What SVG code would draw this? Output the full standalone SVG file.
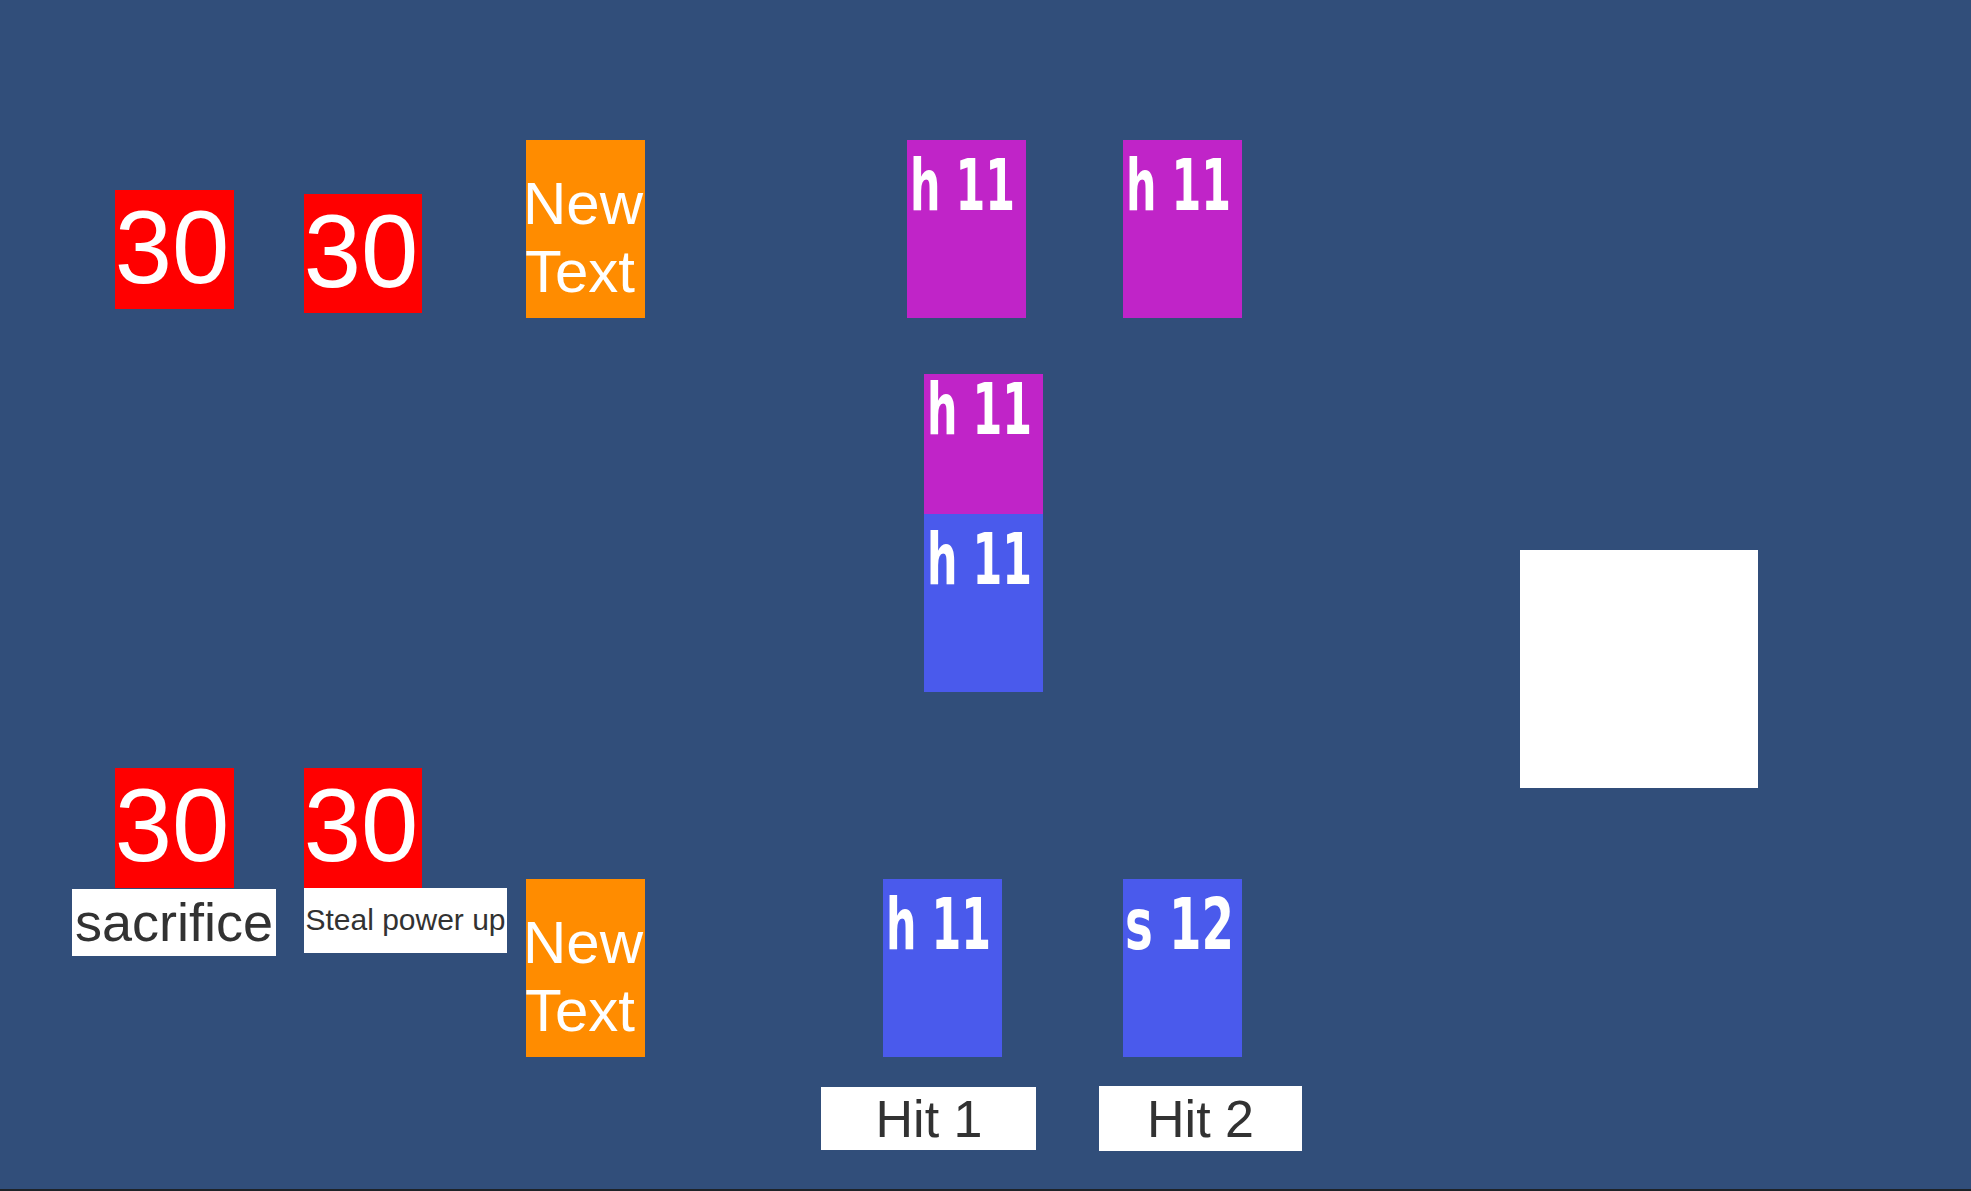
<svg xmlns="http://www.w3.org/2000/svg" width="1971" height="1191" viewBox="0 0 1971 1191">
  <style>
    .red { fill: #FF0000; }
    .orange { fill: #FF8C00; }
    .purple { fill: #C024C8; }
    .blue { fill: #4A5AEC; }
    .white { fill: #FFFFFF; }
    .num { font-family: "Liberation Sans", Arial, sans-serif; font-size: 103px; fill: #FFFFFF; text-anchor: middle; }
    .nt { font-family: "Liberation Sans", Arial, sans-serif; font-size: 60px; fill: #FFFFFF; }
    .lbl { font-family: "Liberation Sans", Arial, sans-serif; fill: #323232; text-anchor: middle; }
    .card { font-family: "DejaVu Sans", sans-serif; font-weight: bold; font-size: 72px; fill: #FFFFFF; }
  </style>
  <rect x="0" y="0" width="1971" height="1191" fill="#314E7A"/>
  <rect x="0" y="1189" width="1971" height="2" fill="#1E2328"/>

  <g id="connectors"/>

  <g id="red-top-1">
    <rect class="red" x="115" y="190" width="119" height="119"/>
    <text class="num" x="172" y="283">30</text>
  </g>
  <g id="red-top-2">
    <rect class="red" x="304" y="194" width="118" height="119"/>
    <text class="num" x="361" y="287">30</text>
  </g>
  <g id="orange-top">
    <rect class="orange" x="526" y="140" width="119" height="178"/>
    <text class="nt" x="523" y="224">New</text>
    <text class="nt" x="525" y="292">Text</text>
  </g>

  <g id="purple-top-1">
    <rect class="purple" x="907" y="140" width="119" height="178"/>
    <text class="card" x="910" y="210" textLength="105" lengthAdjust="spacingAndGlyphs">h 11</text>
  </g>
  <g id="purple-top-2">
    <rect class="purple" x="1123" y="140" width="119" height="178"/>
    <text class="card" x="1126" y="210" textLength="105" lengthAdjust="spacingAndGlyphs">h 11</text>
  </g>

  <g id="purple-mid">
    <rect class="purple" x="924" y="374" width="119" height="178"/>
    <text class="card" x="927" y="434" textLength="105" lengthAdjust="spacingAndGlyphs">h 11</text>
  </g>
  <g id="blue-mid">
    <rect class="blue" x="924" y="514" width="119" height="178"/>
    <text class="card" x="927" y="584" textLength="105" lengthAdjust="spacingAndGlyphs">h 11</text>
  </g>

  <g id="white-square">
    <rect class="white" x="1520" y="550" width="238" height="238"/>
  </g>

  <g id="red-bottom-1">
    <rect class="red" x="115" y="768" width="119" height="120"/>
    <text class="num" x="172" y="861">30</text>
  </g>
  <g id="red-bottom-2">
    <rect class="red" x="304" y="768" width="118" height="120"/>
    <text class="num" x="361" y="861">30</text>
  </g>
  <g id="sacrifice">
    <rect class="white" x="72" y="889" width="204" height="67"/>
    <text class="lbl" x="174" y="941" font-size="54">sacrifice</text>
  </g>
  <g id="steal-power-up">
    <rect class="white" x="304" y="888" width="203" height="65"/>
    <text class="lbl" x="405.5" y="930" font-size="30">Steal power up</text>
  </g>
  <g id="orange-bottom">
    <rect class="orange" x="526" y="879" width="119" height="178"/>
    <text class="nt" x="523" y="963">New</text>
    <text class="nt" x="525" y="1031">Text</text>
  </g>

  <g id="blue-bottom-1">
    <rect class="blue" x="883" y="879" width="119" height="178"/>
    <text class="card" x="886" y="949" textLength="105" lengthAdjust="spacingAndGlyphs">h 11</text>
  </g>
  <g id="blue-bottom-2">
    <rect class="blue" x="1123" y="879" width="119" height="178"/>
    <text class="card" x="1125" y="949" textLength="109" lengthAdjust="spacingAndGlyphs">s 12</text>
  </g>

  <g id="hit-1">
    <rect class="white" x="821" y="1087" width="215" height="63"/>
    <text class="lbl" x="929" y="1137" font-size="52">Hit 1</text>
  </g>
  <g id="hit-2">
    <rect class="white" x="1099" y="1086" width="203" height="65"/>
    <text class="lbl" x="1200.5" y="1137" font-size="52">Hit 2</text>
  </g>
</svg>
